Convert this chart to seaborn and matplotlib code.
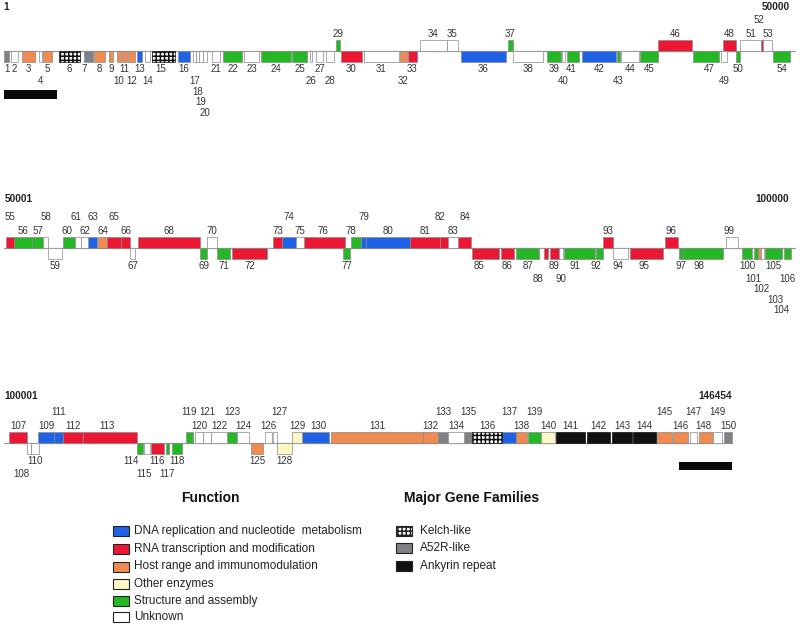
import numpy as np
import pandas as pd
import matplotlib
matplotlib.use("Agg")
import matplotlib.pyplot as plt
from matplotlib.patches import Rectangle
import seaborn as sns

sns.set_theme(style="white")
plt.rcParams['font.family'] = ['Liberation Sans', 'DejaVu Sans']
plt.rcParams['hatch.linewidth'] = 1.1

gene_start = [
    1, 420, 1140, 2220, 2470, 3480, 5060, 5700, 6650, 7150,
    7470, 7850, 8420, 8930, 9370, 11010, 11960, 12150, 12340, 12600,
    13170, 13860, 15190, 16270, 18230, 19370, 19750, 20380, 21020, 21330,
    22790, 25070, 25570, 26330, 28040, 28930, 31900, 32220, 34370, 35320,
    35640, 36590, 38800, 39060, 40260, 41400, 43610, 45510, 45390, 46330,
    46590, 47920, 48040, 48680,
    50130, 50630, 51770, 52470, 52790, 53730, 54490, 54870, 55320, 55950,
    56520, 57410, 57980, 58480, 62410, 62850, 63480, 64430, 67030, 67600,
    68480, 68990, 71460, 71970, 72600, 72910, 75700, 77600, 78110, 78740,
    79620, 81460, 82410, 84180, 84560, 85130, 85450, 87470, 87920, 88550,
    89630, 91840, 92730, 92980, 95700, 96720, 97350, 97480, 97730, 97920,
    98170, 99380,
    100320, 101460, 102150, 101710, 103170, 103730, 105000, 108420, 108860, 109310,
    110250, 110630, 111520, 112090, 112600, 113100, 114120, 114750, 115640, 116520,
    117030, 117280, 118230, 118860, 120700, 126520, 127470, 128110, 129120, 129620,
    131520, 132410, 133170, 133990, 134940, 136900, 138490, 139820, 141330, 142350,
    143420, 143990, 144880, 145580,
]
gene_end = [
    340, 910, 1960, 2420, 3040, 4810, 5610, 6390, 6900, 7410,
    7790, 8290, 8740, 9240, 10820, 11770, 12150, 12340, 12600, 12850,
    13670, 15070, 16140, 18170, 19180, 19500, 20190, 20890, 21270, 22660,
    25000, 25510, 26140, 28040, 28740, 31780, 32220, 34120, 35260, 35510,
    36400, 38740, 38990, 40200, 41400, 43550, 45260, 46330, 45770, 46590,
    47920, 48040, 48610, 49750,
    50630, 51770, 52470, 52790, 53670, 54490, 54870, 55320, 55890, 56520,
    57410, 57980, 58290, 62410, 62850, 63480, 64310, 66650, 67600, 68480,
    68990, 71590, 71900, 72600, 72910, 75700, 77600, 78110, 78740, 79560,
    81330, 82280, 83870, 84440, 85130, 85380, 87410, 87920, 88550, 89500,
    91720, 92660, 92980, 95510, 96460, 97350, 97480, 97730, 97920, 98110,
    99250, 99820,
    101460, 101710, 103170, 102220, 103730, 105000, 108420, 108800, 109240, 110130,
    110440, 111270, 111960, 112600, 113100, 114120, 114750, 115510, 116390, 116960,
    117280, 118230, 118860, 120570, 126520, 127470, 128110, 129120, 129620, 131520,
    132410, 133110, 133990, 134880, 136780, 138360, 139750, 141270, 142280, 143300,
    143870, 144880, 145450, 146080,
]
# genes drawn above the line ('+'); all others below ('-')
upper_genes = [29, 34, 35, 37, 46, 48, 51, 52, 53,
               55, 56, 57, 58, 60, 61, 62, 63, 64, 65, 66, 68, 70, 73, 74, 75, 76,
               78, 79, 80, 81, 82, 83, 84, 93, 96, 99,
               107, 109, 111, 112, 113, 119, 120, 121, 122, 123, 124, 126, 127,
               129, 130, 131, 132, 133, 134, 135, 136, 137, 138, 139, 140, 141,
               142, 143, 144, 145, 146, 147, 148, 149, 150]
gene_strand = ['+' if g in upper_genes else '-' for g in range(1, 151)]

gene_class = (
    "AWOWOKAOOOOOBWKBWWWWWGWGGWWWGRWORWWBGWGWGBGWGRGRWGWRWG"      # 1-54
    "RGGWWGWWBORRWRGWGRRBWRGGBBRRWRRRGRRWGGRWRRGGWGWGOWGG"        # 55-106
    "RWBWBRRGWRGGGWWWGWOWWYYBOOAWAKBOGYNNNNOOWOWA"                # 107-150
)

genome_length = 146454
track_length = 50000
repeat_start = [1, 142730]
repeat_end = [3350, 146080]

class_names = {
    'B': "DNA replication and nucleotide  metabolism",
    'R': "RNA transcription and modification",
    'O': "Host range and immunomodulation",
    'Y': "Other enzymes",
    'G': "Structure and assembly",
    'W': "Unknown",
}
family_names = {'K': "Kelch-like", 'A': "A52R-like", 'N': "Ankyrin repeat"}

# ---------------- styles ----------------
colors = {'B': '#2062e6', 'R': '#ec1733', 'O': '#f18a50', 'Y': '#fdf6c6',
          'G': '#25b825', 'W': '#ffffff', 'K': '#ffffff', 'A': '#7e8185',
          'N': '#111111'}
hatches = {'K': '++++'}
edges = {'K': '#111111', 'N': '#111111'}

tier = {g: 1 for g in range(1, 151)}
for g in [4, 10, 12, 14, 17, 26, 28, 32, 40, 43, 49, 52, 55, 58, 61, 63, 65, 74,
          79, 82, 84, 88, 90, 101, 106, 108, 111, 115, 117, 119, 121, 123, 127,
          133, 135, 137, 139, 145, 147, 149]:
    tier[g] = 2
for g in [18, 102]:
    tier[g] = 3
for g in [19, 103]:
    tier[g] = 4
for g in [20, 104]:
    tier[g] = 5
nudge_px = {7: -4, 15: -3, 41: -2, 47: 3, 52: -3, 78: -5, 82: -4, 85: -6,
            88: -8, 91: -5, 92: -4, 94: -3, 95: -3, 98: -4, 99: -3, 102: 5,
            103: 16, 104: 19, 108: -8, 113: -3, 114: -9, 115: -3, 127: 4,
            130: 3, 148: -3, 60: -2, 61: -2, 76: -2}
below_off = [18, 30.5, 41, 51.5, 62]
above_off = [17, 31]

df = pd.DataFrame({'gene': np.arange(1, 151), 'start': gene_start,
                   'end': gene_end, 'strand': gene_strand,
                   'cls': list(gene_class)})
df['track'] = (df['start'] - 1) // track_length

W, H = 800, 626
fig = plt.figure(figsize=(W / 100, H / 100), dpi=100)
bp_per_px = 63.3
line_y = [50.7, 248.3, 443.3]
box_h = 11
label_col = '#333333'

for t in range(3):
    off = t * track_length
    top, bottom = line_y[t] - 55, line_y[t] + 70
    ax = fig.add_axes([4 / W, 1 - bottom / H, 792 / W, (bottom - top) / H])
    ax.set_xlim(off, off + 792 * bp_per_px)
    ax.set_ylim(-70, 55)
    ax.axis('off')
    sub = df[df['track'] == t]
    line_end = off + 792 * bp_per_px if t < 2 else sub['end'].max()
    ax.plot([off, line_end], [0, 0], color='#9a9a9a', lw=0.9, zorder=1)
    for (c, s), grp in sub.groupby(['cls', 'strand']):
        ax.bar(grp['start'], box_h, width=grp['end'] - grp['start'],
               bottom=0 if s == '+' else -box_h, align='edge',
               color=colors[c], edgecolor=edges.get(c, '#8a8a8a'),
               linewidth=0.5, hatch=hatches.get(c), zorder=2)
    for _, r in sub.iterrows():
        g = r['gene']
        xc = (r['start'] + r['end']) / 2 + nudge_px.get(g, 0) * bp_per_px
        k = tier[g] - 1
        y = above_off[k] if r['strand'] == '+' else -below_off[k]
        ax.text(xc, y, str(g), ha='center', va='center', fontsize=7,
                color=label_col)
    for s0, e0 in zip(repeat_start, repeat_end):
        if off <= s0 < off + track_length:
            yb = -48 if t == 0 else -26.7
            ax.bar([s0], 8.2, width=[e0 - s0], bottom=yb, align='edge',
                   color='#0a0a0a', linewidth=0, zorder=2)
    hy = [44, 49, 47][t]
    ax.text(off - 10 + (60 if t else 0), hy, f"{off + 1}", ha='left',
            va='center', fontsize=7.2, fontweight='bold', color='#222222')
    right_x = off + 49720 if t < 2 else genome_length - 400
    right_lbl = f"{off + track_length}" if t < 2 else f"{genome_length}"
    ax.text(right_x, hy, right_lbl, ha='right', va='center', fontsize=7.2,
            fontweight='bold', color='#222222')

# ---------------- legend ----------------
lg = fig.add_axes([0, 0, 1, 1])
lg.set_xlim(0, W)
lg.set_ylim(H, 0)
lg.axis('off')
lg.text(210, 498, "Function", ha='center', va='center', fontsize=10,
        fontweight='bold', color='#111111')
lg.text(472, 498, "Major Gene Families", ha='center', va='center',
        fontsize=10, fontweight='bold', color='#111111')
fy = [531, 549, 566.5, 584, 601, 617]
for (c, name), y in zip(class_names.items(), fy):
    lg.add_patch(Rectangle((113, y - 5), 16, 10, facecolor=colors[c],
                           edgecolor='#222222', lw=0.8))
    lg.text(134, y, name, ha='left', va='center', fontsize=8.5,
            color='#222222')
gy = [531, 548, 566]
for (c, name), y in zip(family_names.items(), gy):
    lg.add_patch(Rectangle((396, y - 5), 16, 10, facecolor=colors[c],
                           edgecolor='#222222', lw=0.8, hatch=hatches.get(c)))
    lg.text(420, y, name, ha='left', va='center', fontsize=8.5,
            color='#222222')

fig.savefig("out.png", dpi=100)
